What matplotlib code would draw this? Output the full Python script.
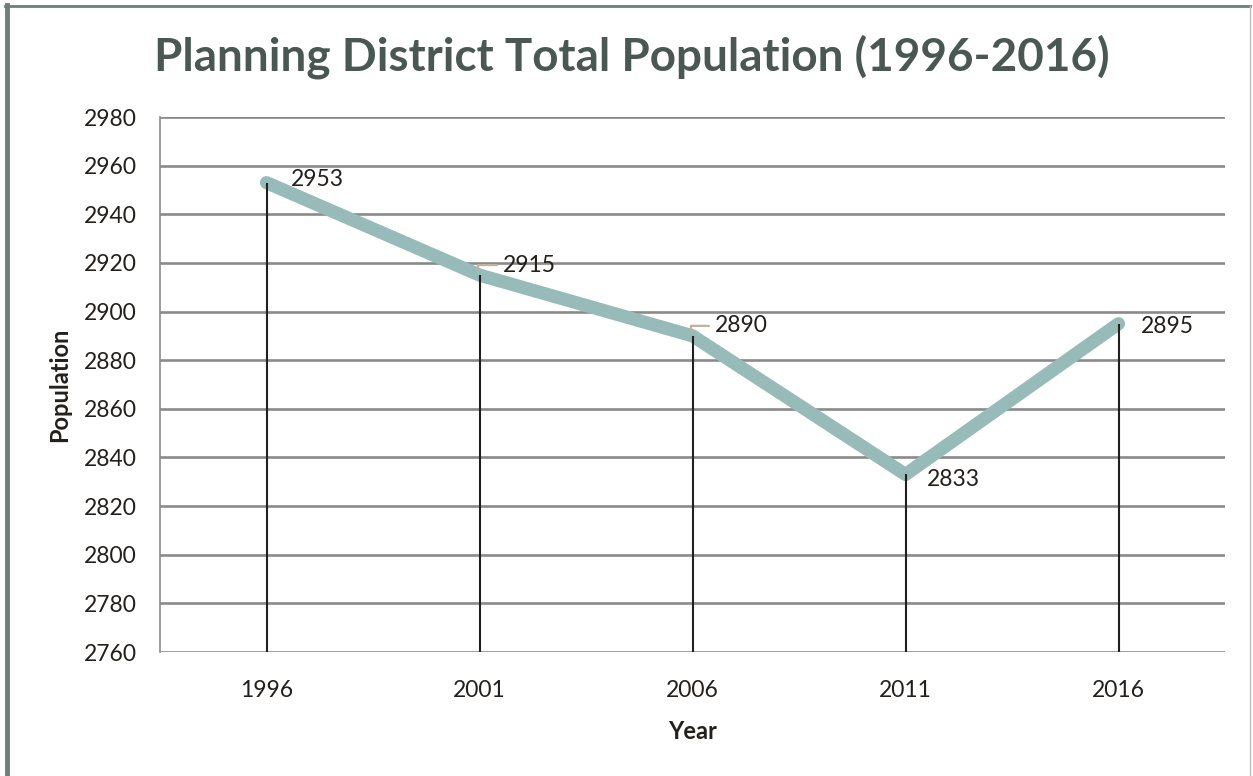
import matplotlib.pyplot as plt
from matplotlib.lines import Line2D

plt.rcParams['font.family'] = ['Lato', 'DejaVu Sans']

years = ['1996', '2001', '2006', '2011', '2016']
population = [2953, 2915, 2890, 2833, 2895]
y_ticks = list(range(2760, 2981, 20))
# label offsets in pixels (dx, dy) relative to each point
label_offsets = [(24, 3), (23, 10), (22, 10), (21, -5), (22, -3)]

fig = plt.figure(figsize=(12.53, 7.76), dpi=100)
ax = fig.add_axes([160 / 1253, 1 - 652 / 776, 1065 / 1253, 535 / 776])

x = list(range(len(years)))
ax.plot(x, population, color='#96BBB8', lw=9.5, solid_capstyle='round',
        solid_joinstyle='round', zorder=3)
ax.vlines(x, 2760, population, color='#231F1C', lw=1.5, zorder=4)

for xi, v, (dx, dy) in zip(x, population, label_offsets):
    if dy > 5:
        ax.annotate(str(v), xy=(xi, v), xytext=(dx * 0.72, dy * 0.72),
                    textcoords='offset points', ha='left', va='center',
                    fontsize=16.5, color='#231F1C', zorder=5,
                    arrowprops=dict(arrowstyle='-', color='#BFB39F', lw=1.6,
                                    shrinkA=2, shrinkB=3,
                                    connectionstyle='angle,angleA=0,angleB=100,rad=0'))
    else:
        ax.annotate(str(v), xy=(xi, v), xytext=(dx * 0.72, dy * 0.72),
                    textcoords='offset points', ha='left', va='center',
                    fontsize=16.5, color='#231F1C', zorder=5)

ax.set_xlim(-0.5, len(years) - 0.5)
ax.set_ylim(2760, 2980)
ax.set_xticks(x)
ax.set_xticklabels(years)
ax.set_yticks(y_ticks)
ax.tick_params(axis='both', length=0, labelsize=16.5, labelcolor='#231F1C')
ax.tick_params(axis='x', pad=20)
ax.tick_params(axis='y', pad=17)
ax.grid(axis='y', color='#8A8A8A', lw=1.9)
ax.set_axisbelow(True)
for side in ['top', 'right', 'bottom']:
    ax.spines[side].set_visible(False)
ax.spines['left'].set_color('#8C8C8C')
ax.spines['left'].set_linewidth(1.2)

ax.set_xlabel('Year', fontsize=17, fontweight='bold', color='#231F1C', labelpad=14)
ax.set_ylabel('Population', fontsize=17, fontweight='bold', color='#231F1C', labelpad=9)

fig.text(632 / 1253, 1 - 57 / 776, 'Planning District Total Population (1996-2016)',
         ha='center', va='center', fontsize=33, fontweight='bold', color='#4A5853')

# outer frame
W, H = 1253, 776
fig.add_artist(Line2D([7 / W, 7 / W], [0, 1 - 5 / H], transform=fig.transFigure,
                      color='#6E7E78', lw=3.5))
fig.add_artist(Line2D([5 / W, 1250 / W], [1 - 6 / H, 1 - 6 / H], transform=fig.transFigure,
                      color='#6E7E78', lw=2))
fig.add_artist(Line2D([1250 / W, 1250 / W], [0, 1 - 6 / H], transform=fig.transFigure,
                      color='#BFBFBF', lw=1))

fig.savefig('out.png', dpi=100)
